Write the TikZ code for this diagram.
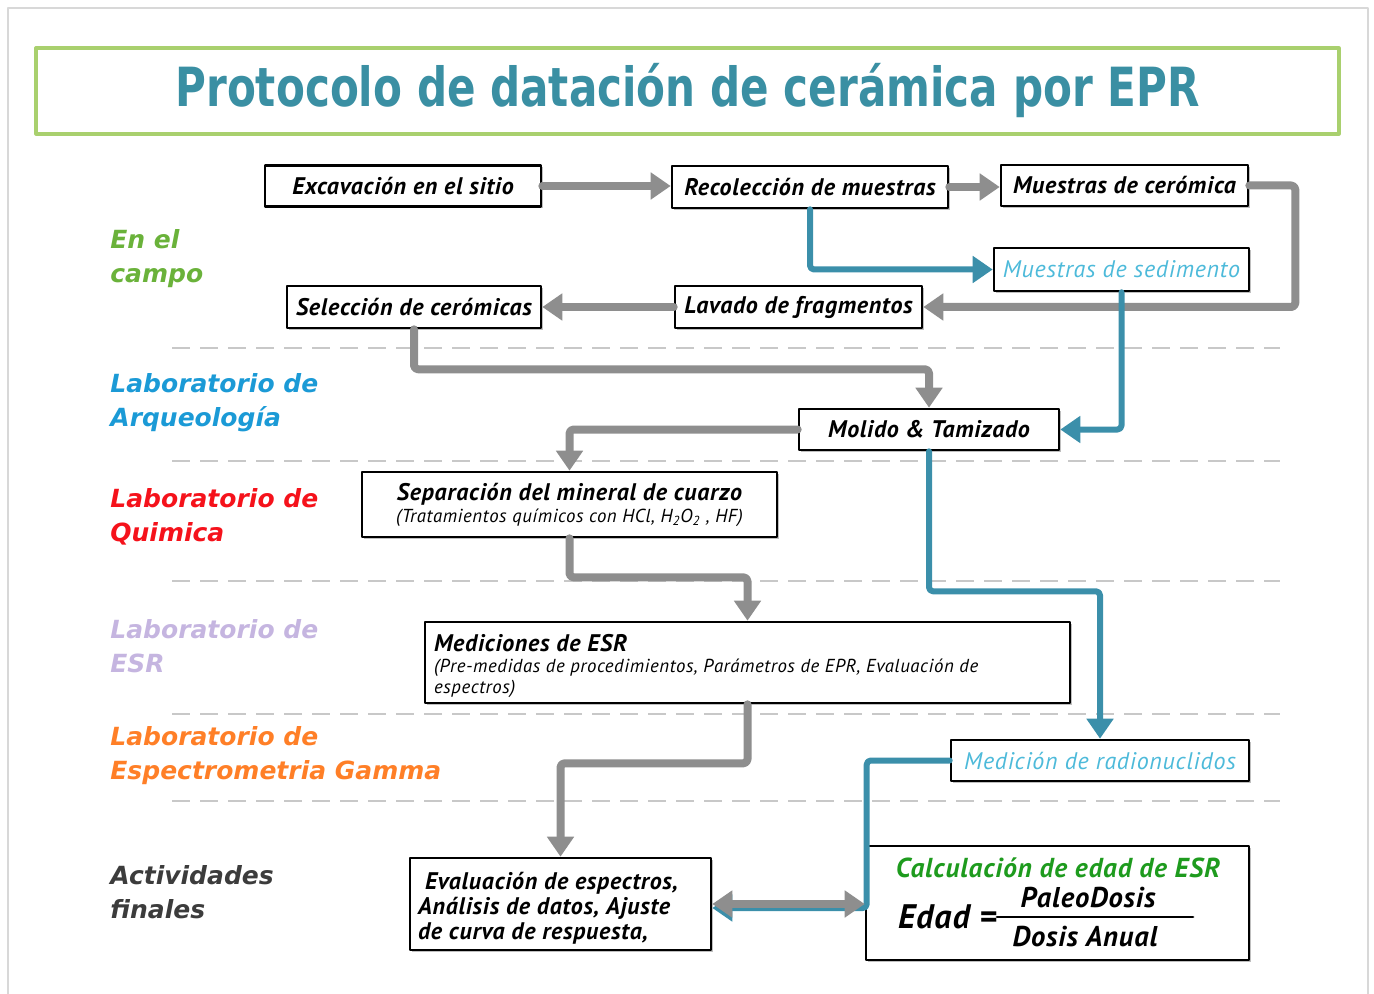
\documentclass[tikz,border=0pt]{standalone}
\usepackage{fontspec}
\usetikzlibrary{arrows.meta}
\usetikzlibrary{shadows}
\newfontfamily\boxfont{PT Sans}[LetterSpace=3]
\newfontfamily\labfont{DejaVu Sans}
\newfontfamily\titlefont{DejaVu Sans}[FakeStretch=0.78]
\newcommand\subfont{\mdseries\fontsize{9.4}{10.5}\selectfont}
\definecolor{titleteal}{HTML}{3A8FA3}
\definecolor{framegreen}{HTML}{A9D06E}
\definecolor{arrowgray}{HTML}{8E8E8E}
\definecolor{tealline}{HTML}{3B8FAA}
\definecolor{dashgray}{HTML}{C8C8C8}
\definecolor{campogreen}{HTML}{6AB23A}
\definecolor{arqblue}{HTML}{1B9AD6}
\definecolor{quimred}{HTML}{F5121B}
\definecolor{esrlilac}{HTML}{C5B5E0}
\definecolor{gammaorange}{HTML}{FF7F27}
\definecolor{finalgray}{HTML}{3C3C3C}
\definecolor{sedblue}{HTML}{4DBADA}
\definecolor{calcgreen}{HTML}{1E9B1E}
\begin{document}
\begin{tikzpicture}[line cap=round,line join=round,>={Triangle[length=10pt,width=13pt]},x=0.5pt,y=-0.5pt,
  box/.style={draw=black,line width=1.3pt,fill=white,inner sep=2pt,
    drop shadow={shadow xshift=0.8pt,shadow yshift=-0.8pt,opacity=0.25,fill=black},
    font=\boxfont\bfseries\itshape\fontsize{12}{13}\selectfont},
  boxtext/.style={anchor=west,align=left,inner sep=0pt,font=\boxfont\bfseries\itshape\fontsize{12}{13}\selectfont},
  grayarrow/.style={draw=arrowgray,line width=4pt,->,rounded corners=2pt},
  tealarrow/.style={draw=tealline,line width=3pt,->,rounded corners=2pt},
  lab/.style={anchor=west,align=left,inner sep=0pt,font=\labfont\bfseries\itshape\fontsize{12.5}{17}\selectfont},
  sepline/.style={draw=dashgray,line width=1pt,line cap=butt,dash pattern=on 9pt off 5pt}]
\useasboundingbox (0,0) rectangle (1374,994);
% outer frame and title
\draw [dashgray!70,line width=0.6pt] (8,994) |- (1368,8) -- (1368,994);
\node (title) [draw=framegreen,line width=1.6pt,minimum width=651.5pt,minimum height=43pt,
  font=\titlefont\bfseries\fontsize{27}{30}\selectfont,text=titleteal] at (687.5,91) {Protocolo de datación de cerámica por EPR};
% lanes
\foreach \y in {348,461,581,714,801}
  \draw [sepline] (172,\y) -- (1280,\y);
\node (campo) [lab,text=campogreen] at (110,259) {En el\\campo};
\node (arq) [lab,text=arqblue] at (110,403) {Laboratorio de\\Arqueología};
\node (quim) [lab,text=quimred] at (110,517) {Laboratorio de\\Quimica};
\node (esr) [lab,text=esrlilac] at (110,646) {Laboratorio de\\ESR};
\node (gamma) [lab,text=gammaorange] at (110,756) {Laboratorio de\\Espectrometria Gamma};
\node (finales) [lab,text=finalgray] at (110,892) {Actividades\\finales};
% steps
\node (exc) [box,minimum width=138pt,minimum height=20.5pt] at (403,186) {Excavación en el sitio};
\node (rec) [box,minimum width=138pt,minimum height=21pt] at (810,187) {Recolección de muestras};
\node (cer) [box,minimum width=123.5pt,minimum height=20.5pt] at (1124.5,185.5) {Muestras de cerómica};
\node (sed) [box,minimum width=127.5pt,minimum height=21.5pt,text=sedblue,font=\boxfont\itshape\fontsize{12}{13}\selectfont] at (1121.5,269.5) {Muestras de sedimento};
\node (sel) [box,minimum width=127pt,minimum height=21pt] at (414,307) {Selección de cerómicas};
\node (lav) [box,minimum width=123.5pt,minimum height=21pt] at (798.5,307) {Lavado de fragmentos};
\node (mol) [box,minimum width=130pt,minimum height=20.5pt] at (929,429.5) {Molido \& Tamizado};
\node (sep) [box,minimum width=207.5pt,minimum height=32.5pt,align=center] at (569.5,504.5)
  {Separación del mineral de cuarzo\\[-2pt]{\subfont(Tratamientos químicos con HCl, H\textsubscript{2}O\textsubscript{2} , HF)}};
\node (med) [box,minimum width=322.5pt,minimum height=40.5pt] at (747.5,662.5) {};
\node (medtext) [boxtext] at ([xshift=5pt,yshift=-1.5pt]med.west)
  {Mediciones de ESR\\[-2.5pt]{\subfont(Pre-medidas de procedimientos, Parámetros de EPR, Evaluación de}\\[-2.5pt]{\subfont espectros)}};
\node (rad) [box,minimum width=149pt,minimum height=20.5pt,text=sedblue,font=\boxfont\itshape\fontsize{12}{13}\selectfont] at (1100,760.5) {Medición de radionuclidos};
\node (eva) [box,minimum width=150.5pt,minimum height=46pt] at (560.5,904) {};
\node (evatext) [boxtext,font=\boxfont\bfseries\itshape\fontsize{12}{12.5}\selectfont] at ([xshift=4.5pt,yshift=-2pt]eva.west)
  {\hspace{3.5pt}Evaluación de espectros,\\Análisis de datos, Ajuste\\de curva de respuesta,};
\node (calc) [box,minimum width=191.5pt,minimum height=57pt] at (1057.5,903) {};
\node (calctitle) [text=calcgreen,font=\boxfont\bfseries\itshape\fontsize{13.7}{15}\selectfont] at (1058,868) {Calculación de edad de ESR};
\node (edad) [anchor=east,inner sep=0pt,font=\boxfont\bfseries\itshape\fontsize{17}{19}\selectfont] at (997,917) {Edad =};
\node (paleo) [font=\boxfont\bfseries\itshape\fontsize{14.3}{16}\selectfont] at (1088,898) {PaleoDosis};
\node (anual) [font=\boxfont\bfseries\itshape\fontsize{14.3}{16}\selectfont] at (1085,937) {Dosis Anual};
\draw [line width=1.4pt] (edad.east) -- ++(196,0);
% connectors
\draw [grayarrow] (exc.east) -- (rec.west |- exc.east);
\draw [grayarrow] (rec.east) -- (cer.west |- rec.east);
\draw [grayarrow] (cer.east) -- ++(46,0) |- (lav.east);
\draw [grayarrow] (lav.west) -- (sel.east);
\draw [tealarrow] (rec.south) |- (sed.west);
\draw [tealarrow] (sed.south) |- (mol.east);
\draw [grayarrow] (sel.south) -- ++(0,40) -| (mol.north);
\draw [grayarrow] (mol.west) -| (sep.north);
\draw [tealarrow] (mol.south) -- ++(0,140) -| (rad.north);
\draw [grayarrow] (sep.south) -- ++(0,39) -| (med.north);
\draw [grayarrow] (med.south) -- ++(0,59) -| (eva.north);
\draw [tealarrow] (rad.west) -- ++(-83,0) |- ([yshift=-2pt]eva.east);
\draw [grayarrow,<->] (eva.east) -- (calc.west |- eva.east);
\end{tikzpicture}
\end{document}
